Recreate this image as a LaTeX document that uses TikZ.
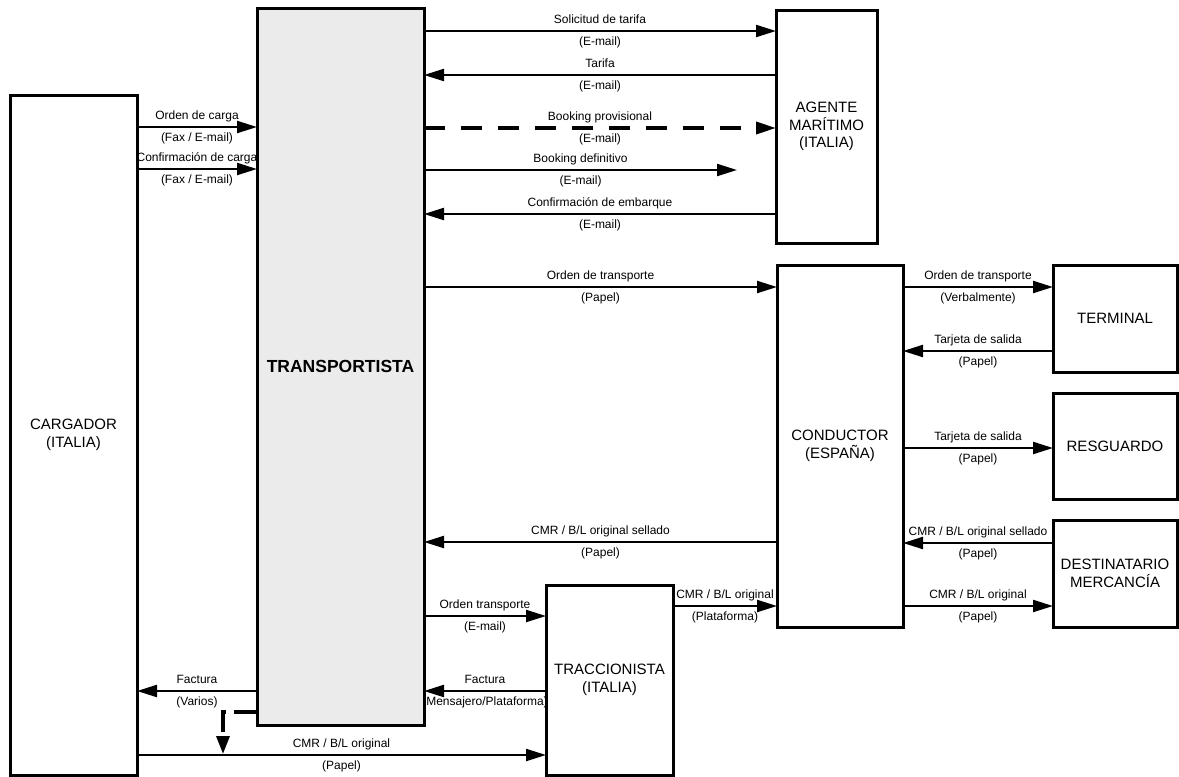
\documentclass[tikz,border=0pt]{standalone}
\usepackage{fontspec}
\setmainfont{Liberation Sans}
\usetikzlibrary{arrows.meta}
\definecolor{tgray}{RGB}{235,235,235}
\pgfdeclarelayer{bg}
\pgfsetlayers{bg,main}
\begin{document}
\begin{tikzpicture}[x=1pt,y=-1pt,
  box/.style={draw, line width=3pt, fill=white, outer sep=0pt, inner sep=2pt, align=center,
    font=\fontsize{15}{17.5}\selectfont, anchor=north west},
  arr/.style={line width=2.2pt, -{Triangle[length=20pt,width=12pt]}},
  darr/.style={arr, line width=3.4pt, dash pattern=on 21pt off 16pt},
  sdarr/.style={line width=3.4pt, dash pattern=on 23pt off 8pt, -{Triangle[length=18pt,width=13pt]}},
  lab/.style={anchor=base, inner sep=0pt, font=\fontsize{12}{14}\selectfont},
  labA/.style={lab, yshift=7.5pt},
  labB/.style={lab, yshift=-14pt}]
\useasboundingbox (0,0) rectangle (1179,777);

% boxes
\node[box, minimum width=127pt, minimum height=680pt] (carg) at (10,95) {CARGADOR\\(ITALIA)};
\node[box, fill=tgray, minimum width=167pt, minimum height=717pt,
  font=\bfseries\fontsize{17.5}{20}\selectfont] (trans) at (257,8) {TRANSPORTISTA};
\node[box, minimum width=101pt, minimum height=233pt] (agente) at (776,10) {AGENTE\\MARÍTIMO\\(ITALIA)};
\node[box, minimum width=126pt, minimum height=362pt] (cond) at (777,265) {CONDUCTOR\\(ESPAÑA)};
\node[box, minimum width=124pt, minimum height=107pt] (term) at (1053,265) {TERMINAL};
\node[box, minimum width=124pt, minimum height=106pt] (resg) at (1053,393) {RESGUARDO};
\node[box, minimum width=124pt, minimum height=107pt] (dest) at (1053,520) {DESTINATARIO\\MERCANCÍA};
\node[box, minimum width=127pt, minimum height=190pt] (trac) at (546,585) {TRACCIONISTA\\(ITALIA)};

\coordinate (bookend) at (737,170);
\coordinate (dashcorner) at (223,712);
\coordinate (dashend) at (223,754);

\begin{pgfonlayer}{bg}
% cargador <-> transportista
\draw[arr] (carg.east |- 0,127) -- node[labA]{Orden de carga} node[labB]{(Fax / E-mail)} (trans.west |- 0,127);
\draw[arr] (carg.east |- 0,169) -- node[labA]{Confirmación de carga} node[labB]{(Fax / E-mail)} (trans.west |- 0,169);
\draw[arr] (trans.west |- 0,691) -- node[labA]{Factura} node[labB]{(Varios)} (carg.east |- 0,691);
\draw[arr] (carg.east |- 0,755) -- node[labA]{CMR / B/L original} node[labB]{(Papel)} (trac.west |- 0,755);
\draw[sdarr] (trans.west |- 0,712) -- (dashcorner) -- (dashend);

% transportista <-> agente
\draw[arr] (trans.east |- 0,31) -- node[labA]{Solicitud de tarifa} node[labB]{(E-mail)} (agente.west |- 0,31);
\draw[arr] (agente.west |- 0,75) -- node[labA]{Tarifa} node[labB]{(E-mail)} (trans.east |- 0,75);
\draw[darr] (trans.east |- 0,128) -- node[labA]{Booking provisional} node[labB]{(E-mail)} (agente.west |- 0,128);
\draw[arr] (trans.east |- bookend) -- node[labA]{Booking definitivo} node[labB]{(E-mail)} (bookend);
\draw[arr] (agente.west |- 0,214) -- node[labA]{Confirmación de embarque} node[labB]{(E-mail)} (trans.east |- 0,214);

% transportista <-> conductor / traccionista
\draw[arr] (trans.east |- 0,287) -- node[labA]{Orden de transporte} node[labB]{(Papel)} (cond.west |- 0,287);
\draw[arr] (cond.west |- 0,542) -- node[labA]{CMR / B/L original sellado} node[labB]{(Papel)} (trans.east |- 0,542);
\draw[arr] (trans.east |- 0,616) -- node[labA]{Orden transporte} node[labB]{(E-mail)} (trac.west |- 0,616);
\draw[arr] (trac.west |- 0,691) -- node[labA]{Factura} node[labB]{(Mensajero/Plataforma)} (trans.east |- 0,691);
\draw[arr] (trac.east |- 0,606) -- node[labA]{CMR / B/L original} node[labB]{(Plataforma)} (cond.west |- 0,606);

% conductor <-> right boxes
\draw[arr] (cond.east |- 0,287) -- node[labA]{Orden de transporte} node[labB]{(Verbalmente)} (term.west |- 0,287);
\draw[arr] (term.west |- 0,351) -- node[labA]{Tarjeta de salida} node[labB]{(Papel)} (cond.east |- 0,351);
\draw[arr] (cond.east |- 0,448) -- node[labA]{Tarjeta de salida} node[labB]{(Papel)} (resg.west |- 0,448);
\draw[arr] (dest.west |- 0,543) -- node[labA]{CMR / B/L original sellado} node[labB]{(Papel)} (cond.east |- 0,543);
\draw[arr] (cond.east |- 0,606) -- node[labA]{CMR / B/L original} node[labB]{(Papel)} (dest.west |- 0,606);
\end{pgfonlayer}
\end{tikzpicture}
\end{document}
